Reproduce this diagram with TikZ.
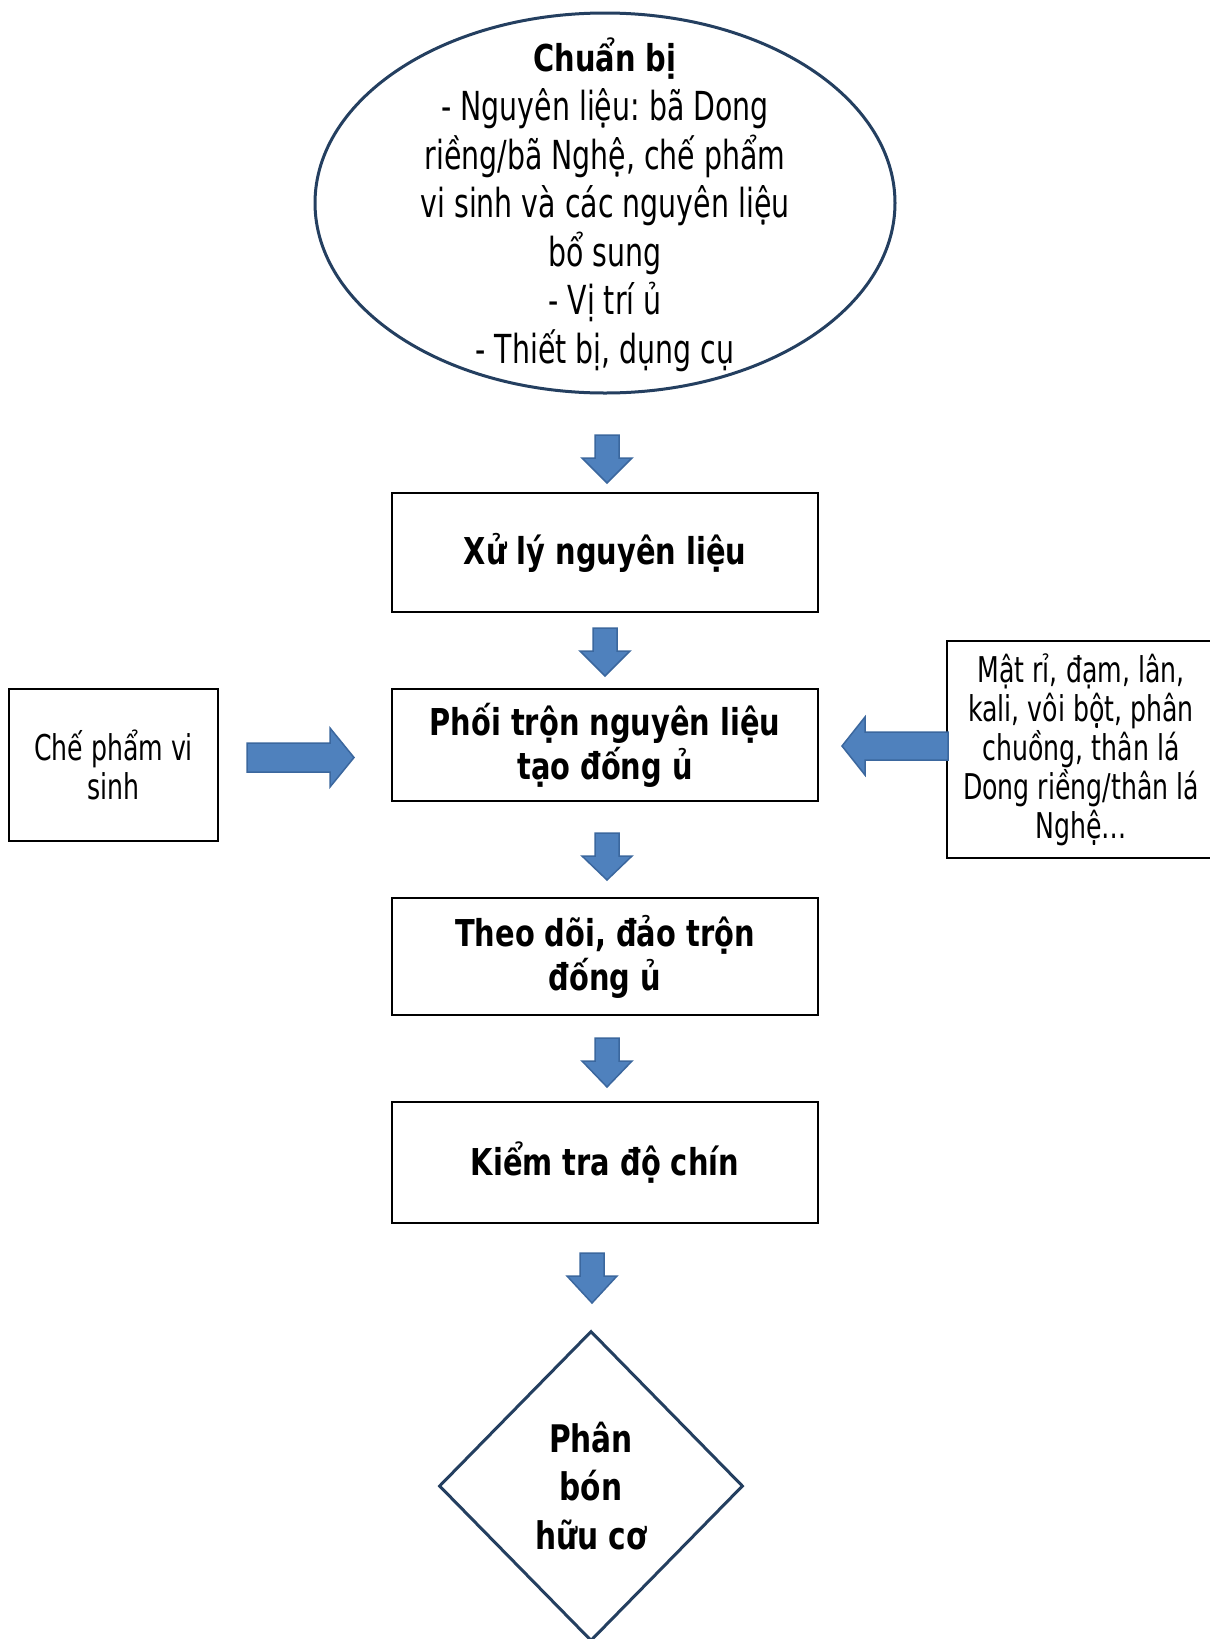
\documentclass[tikz,border=0pt]{standalone}
\usepackage{fontspec}
\setmainfont[FakeStretch=0.71, BoldFeatures={FakeStretch=0.78}]{DejaVu Sans}
\usetikzlibrary{shapes.geometric}
\frenchspacing
\definecolor{arrfill}{HTML}{4F81BD}
\definecolor{arrline}{HTML}{3B679E}
\definecolor{shapeline}{HTML}{243F60}
\newcommand\downblock[3]{%
  \filldraw[blockarrow] (#1-12,#2) -- (#1+12,#2) -- (#1+12,#2+23) -- (#1+25,#2+23)
    -- (#1,#3) -- (#1-25,#2+23) -- (#1-12,#2+23) -- cycle;}
\begin{document}
\begin{tikzpicture}[x=1pt,y=-1pt,
  blockarrow/.style={fill=arrfill, draw=arrline, line width=1.5pt, line join=miter},
  stepbox/.style={draw=black, line width=2pt, minimum width=426pt, align=center,
    inner sep=0pt, font=\fontsize{37}{44}\selectfont\bfseries},
  sidebox/.style={draw=black, line width=2pt, align=center, inner sep=0pt,
    font=\fontsize{35.5}{39}\selectfont},
  starttext/.style={inner sep=0pt, align=center, font=\fontsize{40}{48.6}\selectfont\frenchspacing},
  endnode/.style={diamond, draw=shapeline, line width=3pt, minimum width=304pt,
    minimum height=310pt, inner sep=0pt, align=center, font=\fontsize{38}{48.6}\selectfont\bfseries}]
\useasboundingbox (0,0) rectangle (1210,1639);
\clip (0,0) rectangle (1210,1639);
\fill[white] (0,0) rectangle (1210,1639);

\draw[draw=shapeline, line width=3pt] (605,203) ellipse [x radius=290, y radius=190];
\node[starttext] (prep) at (605,205) {{\fontsize{37}{48.6}\selectfont\bfseries Chuẩn bị}\\- Nguyên liệu: bã Dong\\riềng/bã Nghệ, chế phẩm\\vi sinh và các nguyên liệu\\bổ sung\\- Vị trí ủ\\- Thiết bị, dụng cụ};

\node[stepbox, minimum height=119pt] (xuly) at (605,552.5) {Xử lý nguyên liệu};
\node[stepbox, minimum height=112pt] (phoi) at (605,745) {Phối trộn nguyên liệu\\tạo đống ủ};
\node[stepbox, minimum height=117pt] (theo) at (605,956.5) {Theo dõi, đảo trộn\\đống ủ};
\node[stepbox, minimum height=121pt] (kiem) at (605,1162.5) {Kiểm tra độ chín};

\node[sidebox, minimum width=209pt, minimum height=152pt] (chepham) at (113.5,765) {Chế phẩm vi\\sinh};
\node[sidebox, minimum width=268pt, minimum height=217pt] (phugia) at (1081,749.5) {Mật rỉ, đạm, lân,\\kali, vôi bột, phân\\chuồng, thân lá\\Dong riềng/thân lá\\Nghệ…};

\node[endnode] (phanbon) at (591,1486) {Phân\\bón\\hữu cơ};

\downblock{607}{435}{483}
\downblock{605}{628}{676}
\downblock{607}{833}{880}
\downblock{607}{1038}{1087}
\downblock{592}{1253}{1303}

% right-pointing block arrow (left side)
\filldraw[blockarrow] (247,743) -- (330,743) -- (330,728) -- (354,757.5) -- (330,787)
  -- (330,772) -- (247,772) -- cycle;
% left-pointing block arrow (right side)
\filldraw[blockarrow] (948,732) -- (865,732) -- (865,717) -- (842,746) -- (865,775)
  -- (865,760) -- (948,760) -- cycle;
\end{tikzpicture}
\end{document}
